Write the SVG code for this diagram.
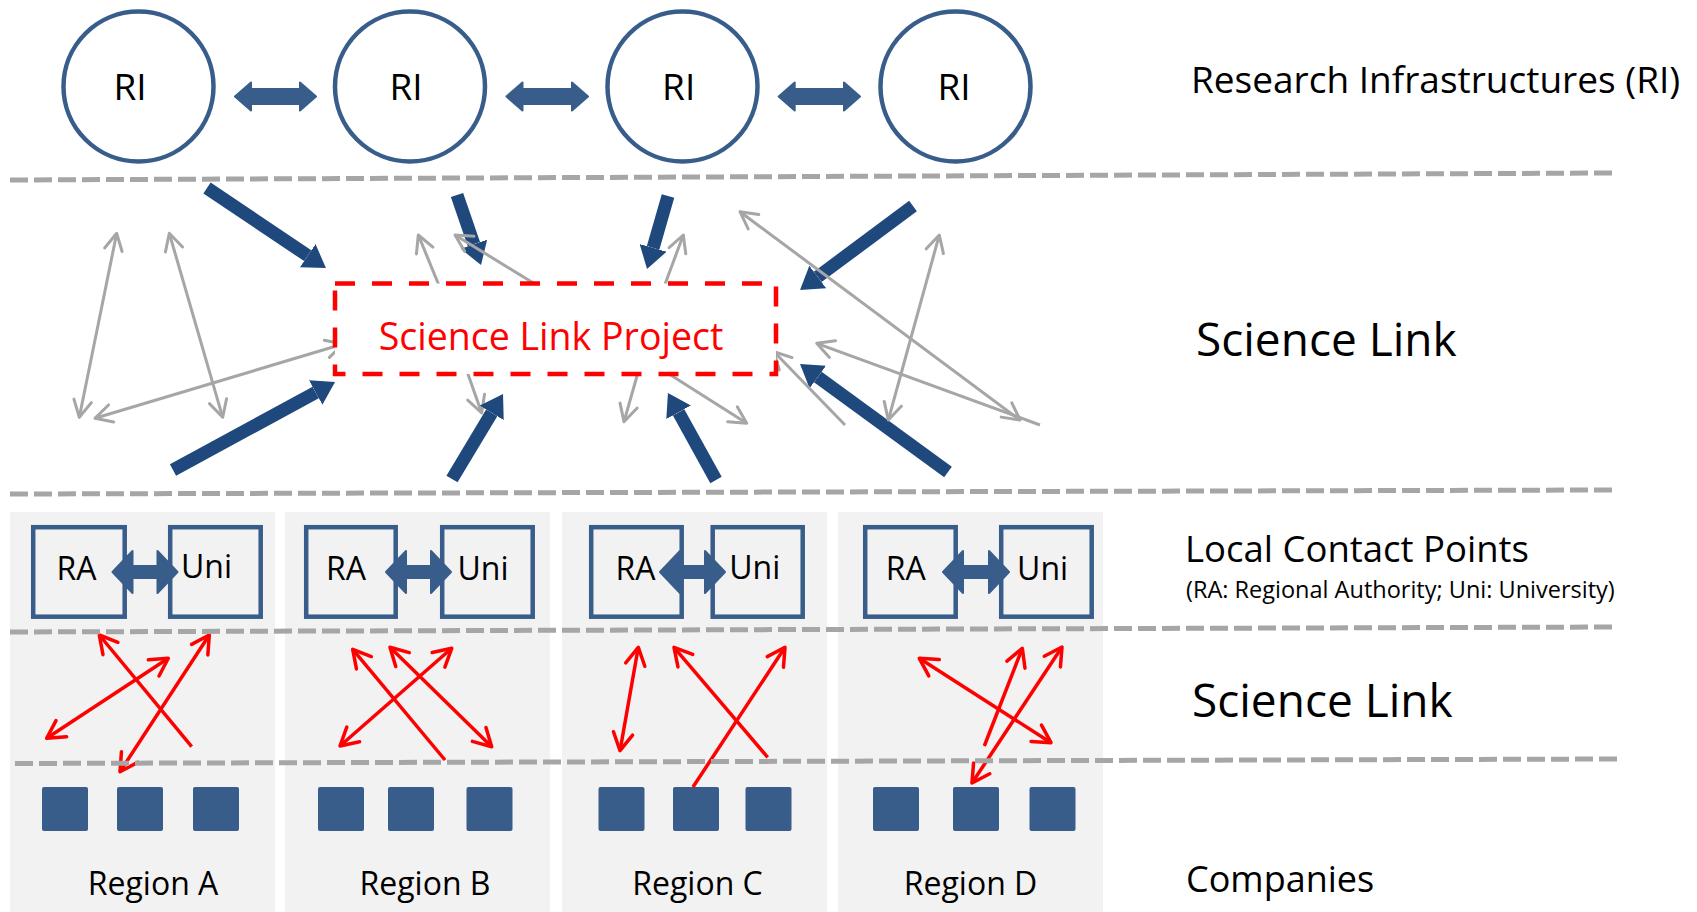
<svg xmlns="http://www.w3.org/2000/svg" width="1697" height="912" viewBox="0 0 1697 912">
  <defs>
    <style>
      .txt { font-family: "Open Sans", "Noto Sans", "Liberation Sans", sans-serif; fill: #000; }
      .ri { fill: #fff; stroke: #385D8A; stroke-width: 4.5; }
      .lcp { fill: none; stroke: #385D8A; stroke-width: 4.5; }
      .blue { fill: #385D8A; stroke: #385D8A; stroke-width: 2; stroke-linejoin: round; }
      .panel { fill: #F2F2F2; }
      .co { fill: #385D8A; }
      .sep { stroke: #A6A6A6; stroke-width: 5; stroke-dasharray: 18 6; fill: none; }
      .navy { stroke: #1F497D; stroke-width: 13; fill: none; marker-end: url(#navyHead); }
      .grey { stroke: #A6A6A6; stroke-width: 3; fill: none; marker-end: url(#greyHead); }
      .grey2 { marker-start: url(#greyHead); }
      .red { stroke: #FF0000; stroke-width: 3.5; fill: none; marker-end: url(#redHead); }
      .red2 { marker-start: url(#redHead); }
    </style>
    <marker id="navyHead" viewBox="0 -14 22 28" markerWidth="22" markerHeight="28" refX="0" refY="0" orient="auto" markerUnits="userSpaceOnUse">
      <path d="M0,-14 L22,0 L0,14 z" fill="#1F497D"/>
    </marker>
    <marker id="greyHead" viewBox="-22 -13 26 26" markerWidth="26" markerHeight="26" refX="0" refY="0" orient="auto-start-reverse" markerUnits="userSpaceOnUse">
      <path d="M-16.8,-8.9 L0,0 L-16.8,8.9" fill="none" stroke="#A6A6A6" stroke-width="3" stroke-linecap="round" stroke-linejoin="round"/>
    </marker>
    <marker id="redHead" viewBox="-23 -14 28 28" markerWidth="28" markerHeight="28" refX="0" refY="0" orient="auto-start-reverse" markerUnits="userSpaceOnUse">
      <path d="M-17.5,-9.7 L0,0 L-17.5,9.7" fill="none" stroke="#FF0000" stroke-width="3.5" stroke-linecap="round" stroke-linejoin="round"/>
    </marker>
  </defs>

  <rect width="1697" height="912" fill="#fff"/>

  <!-- regional panels -->
  <g id="panels">
    <rect class="panel" x="10" y="512" width="265" height="400"/>
    <rect class="panel" x="285" y="512" width="265" height="400"/>
    <rect class="panel" x="562" y="512" width="265" height="400"/>
    <rect class="panel" x="838" y="512" width="265" height="400"/>
  </g>

  <!-- research infrastructures -->
  <g id="ri-1"><circle class="ri" cx="138.5" cy="86.5" r="75"/><text class="txt" x="130" y="100" font-size="37" text-anchor="middle">RI</text></g>
  <g id="ri-2"><circle class="ri" cx="410" cy="86.5" r="75"/><text class="txt" x="406" y="100" font-size="37" text-anchor="middle">RI</text></g>
  <g id="ri-3"><circle class="ri" cx="682.5" cy="86.5" r="75"/><text class="txt" x="678.7" y="100" font-size="37" text-anchor="middle">RI</text></g>
  <g id="ri-4"><circle class="ri" cx="955.5" cy="86.5" r="75"/><text class="txt" x="954" y="100" font-size="37" text-anchor="middle">RI</text></g>

  <!-- local contact points: regional authority and university per region -->
  <g id="region-a">
    <rect class="lcp" x="33.2" y="527.2" width="91.5" height="89.5"/>
    <rect class="lcp" x="170.2" y="527.2" width="90.5" height="89.5"/>
    <text class="txt" x="76.5" y="580" font-size="32" text-anchor="middle">RA</text>
    <text class="txt" x="206.5" y="578" font-size="32" text-anchor="middle">Uni</text>
    <rect class="co" x="42" y="787" width="46" height="44" rx="2"/>
    <rect class="co" x="117" y="787" width="46" height="44" rx="2"/>
    <rect class="co" x="193" y="787" width="46" height="44" rx="2"/>
    <text class="txt" x="153" y="895" font-size="32" text-anchor="middle">Region A</text>
  </g>
  <g id="region-b">
    <rect class="lcp" x="306.2" y="527.2" width="89.5" height="89.5"/>
    <rect class="lcp" x="442.2" y="527.2" width="90.5" height="89.5"/>
    <text class="txt" x="346" y="580" font-size="32" text-anchor="middle">RA</text>
    <text class="txt" x="483" y="580" font-size="32" text-anchor="middle">Uni</text>
    <rect class="co" x="318" y="787" width="46" height="44" rx="2"/>
    <rect class="co" x="388" y="787" width="46" height="44" rx="2"/>
    <rect class="co" x="466.5" y="787" width="46" height="44" rx="2"/>
    <text class="txt" x="425" y="895" font-size="32" text-anchor="middle">Region B</text>
  </g>
  <g id="region-c">
    <rect class="lcp" x="591.2" y="527.2" width="90.5" height="89.5"/>
    <rect class="lcp" x="712.7" y="527.2" width="90" height="89.5"/>
    <text class="txt" x="635.6" y="580" font-size="32" text-anchor="middle">RA</text>
    <text class="txt" x="754.7" y="579" font-size="32" text-anchor="middle">Uni</text>
    <rect class="co" x="598.5" y="787" width="46" height="44" rx="2"/>
    <rect class="co" x="673" y="787" width="46" height="44" rx="2"/>
    <rect class="co" x="745.5" y="787" width="46" height="44" rx="2"/>
    <text class="txt" x="697.5" y="895" font-size="32" text-anchor="middle">Region C</text>
  </g>
  <g id="region-d">
    <rect class="lcp" x="865.2" y="527.2" width="90.5" height="89.5"/>
    <rect class="lcp" x="1001.2" y="527.2" width="90.5" height="89.5"/>
    <text class="txt" x="905.8" y="580" font-size="32" text-anchor="middle">RA</text>
    <text class="txt" x="1042.6" y="580" font-size="32" text-anchor="middle">Uni</text>
    <rect class="co" x="873" y="787" width="46" height="44" rx="2"/>
    <rect class="co" x="953" y="787" width="46" height="44" rx="2"/>
    <rect class="co" x="1029.5" y="787" width="46" height="44" rx="2"/>
    <text class="txt" x="970.5" y="895" font-size="32" text-anchor="middle">Region D</text>
  </g>

  <g id="connectors">
    <!-- RI to RI -->
    <path class="blue" d="M235,96.5 L251,82.5 L251,89 L300,89 L300,82.5 L316,96.5 L300,110.5 L300,104 L251,104 L251,110.5 Z"/>
    <path class="blue" d="M506.5,96.5 L522.5,82.5 L522.5,89 L572,89 L572,82.5 L588,96.5 L572,110.5 L572,104 L522.5,104 L522.5,110.5 Z"/>
    <path class="blue" d="M778.7,96.5 L794.7,82.5 L794.7,89 L844,89 L844,82.5 L860,96.5 L844,110.5 L844,104 L794.7,104 L794.7,110.5 Z"/>

    <!-- RA to Uni -->
    <path class="blue" d="M112.5,572 L132.5,551 L132.5,566 L157.5,566 L157.5,551 L177.5,572 L157.5,593 L157.5,578 L132.5,578 L132.5,593 Z"/>
    <path class="blue" d="M386,572 L406,551 L406,566 L431,566 L431,551 L451,572 L431,593 L431,578 L406,578 L406,593 Z"/>
    <path class="blue" d="M660,572 L680,551 L680,566 L705,566 L705,551 L725,572 L705,593 L705,578 L680,578 L680,593 Z"/>
    <path class="blue" d="M943,572 L963,551 L963,566 L989,566 L989,551 L1009,572 L989,593 L989,578 L963,578 L963,593 Z"/>

    <!-- grey link running under the lower arrow -->
    <line class="grey" x1="463" y1="360" x2="481.7" y2="413"/>

    <!-- flows into the Science Link Project -->
    <line class="navy" x1="207" y1="188" x2="307.7" y2="255.7"/>
    <line class="navy" x1="457" y1="195" x2="473.9" y2="244.2"/>
    <line class="navy" x1="668" y1="196" x2="653.1" y2="247.9"/>
    <line class="navy" x1="913" y1="206" x2="817.7" y2="276.9"/>
    <line class="navy" x1="173" y1="470" x2="315.7" y2="392.5"/>
    <line class="navy" x1="452" y1="479" x2="491.7" y2="412.9"/>
    <line class="navy" x1="716" y1="480" x2="678.6" y2="412.3"/>
    <line class="navy" x1="948" y1="472" x2="817.8" y2="377"/>

    <!-- grey links between partners -->
    <line class="grey grey2" x1="116.7" y1="233.3" x2="79.3" y2="417.3"/>
    <line class="grey grey2" x1="169.3" y1="233.3" x2="222.7" y2="417.3"/>
    <line class="grey grey2" x1="343" y1="344" x2="95" y2="418.3"/>
    <line class="grey" x1="445" y1="300" x2="418.3" y2="235"/>
    <line class="grey" x1="553" y1="295" x2="455" y2="235"/>
    <line class="grey" x1="661" y1="295" x2="683.3" y2="235"/>
    <line class="grey" x1="641" y1="362" x2="624" y2="421.7"/>
    <line class="grey" x1="649.7" y1="361.7" x2="746.7" y2="423.3"/>
    <line class="grey grey2" x1="740" y1="211.7" x2="1020" y2="420"/>
    <line class="grey" x1="845" y1="425" x2="774" y2="351.7"/>
    <line class="grey" x1="1040" y1="425" x2="816.7" y2="343.3"/>
    <line class="grey grey2" x1="939.3" y1="235" x2="888.3" y2="420"/>

    <!-- regional links -->
    <line class="red red2" x1="46.7" y1="738.3" x2="168.3" y2="658.3"/>
    <line class="red" x1="191.7" y1="746.7" x2="99.3" y2="635"/>
    <line class="red red2" x1="120" y1="771.7" x2="209.3" y2="635"/>
    <line class="red" x1="445" y1="760" x2="352.7" y2="649.3"/>
    <line class="red red2" x1="340" y1="746" x2="451.7" y2="648.3"/>
    <line class="red red2" x1="390" y1="647.3" x2="491.7" y2="746.7"/>
    <line class="red red2" x1="638.3" y1="647.3" x2="620" y2="750.7"/>
    <line class="red" x1="767.7" y1="757.3" x2="674" y2="647.3"/>
    <line class="red" x1="693" y1="787" x2="785" y2="647.3"/>
    <line class="red red2" x1="919.3" y1="658.3" x2="1051" y2="742.7"/>
    <line class="red" x1="984.3" y1="746" x2="1022.3" y2="648.3"/>
    <line class="red red2" x1="1062" y1="647" x2="972" y2="783"/>
  </g>

  <!-- project box -->
  <g id="science-link-project">
    <rect x="335" y="283.5" width="441" height="90.5" fill="#fff" stroke="#FF0000" stroke-width="4.5" stroke-dasharray="20 17"/>
    <text class="txt" x="551" y="350" font-size="37.5" text-anchor="middle" style="fill:#FF0000">Science Link Project</text>
  </g>

  <!-- layer separators -->
  <g id="separators">
    <line class="sep" x1="10" y1="180" x2="1613" y2="173"/>
    <line class="sep" x1="10" y1="494" x2="1613" y2="490"/>
    <line class="sep" x1="10" y1="632" x2="1613" y2="627"/>
    <line class="sep" x1="15" y1="763.5" x2="1617" y2="759"/>
  </g>

  <!-- layer labels -->
  <g id="labels">
    <text class="txt" x="1191" y="93" font-size="37">Research Infrastructures (RI)</text>
    <text class="txt" x="1196" y="356" font-size="46">Science Link</text>
    <text class="txt" x="1185" y="561.5" font-size="36.5">Local Contact Points</text>
    <text class="txt" x="1186" y="598" font-size="23.5">(RA: Regional Authority; Uni: University)</text>
    <text class="txt" x="1192" y="717" font-size="46">Science Link</text>
    <text class="txt" x="1186" y="892" font-size="36">Companies</text>
  </g>
</svg>
